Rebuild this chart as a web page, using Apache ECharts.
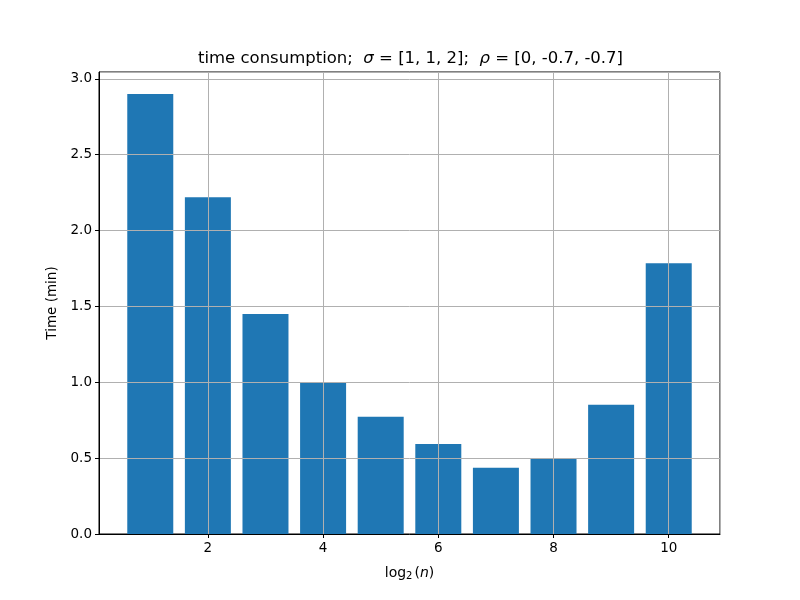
<!DOCTYPE html>
<html>
<head>
<meta charset="utf-8">
<script src="https://cdn.jsdelivr.net/npm/echarts@6/dist/echarts.min.js"></script>
<style>
  html, body { margin: 0; padding: 0; background: #fff; }
  #chart { width: 800px; height: 600px; }
</style>
</head>
<body>
<div id="chart"></div>
<script>
// log2(n) values and measured run time in minutes
const logN = [1, 2, 3, 4, 5, 6, 7, 8, 9, 10];
const times = [2.90, 2.22, 1.45, 1.00, 0.772, 0.594, 0.436, 0.497, 0.852, 1.785];

const font = 'DejaVu Sans';
const chart = echarts.init(document.getElementById('chart'));

// matplotlib style limits: bars of width 0.8, 5% margins
const xMin = 0.6 - 0.049 * 10, xMax = 10.4 + 0.049 * 10;
const yMax = Math.max(...times) * 1.05;

chart.setOption({
  animation: false,
  backgroundColor: '#fff',
  title: {
    text: '{a|time consumption;  }{i|σ}{a| = [1, 1, 2];  }{i|ρ}{a| = [0, -0.7, -0.7]}',
    left: 405.5,
    textAlign: 'center',
    top: 45,
    textStyle: {
      fontWeight: 'normal',
      rich: {
        a: { fontFamily: font, fontSize: 16.5, fontWeight: 'normal', color: '#000' },
        i: { fontFamily: font, fontSize: 16.5, fontWeight: 'normal', fontStyle: 'italic', color: '#000' }
      }
    }
  },
  grid: {
    left: 99, right: 80, top: 72, bottom: 66,
    show: true, borderColor: '#000', borderWidth: 1, backgroundColor: 'transparent'
  },
  xAxis: {
    type: 'value',
    min: xMin,
    max: xMax,
    splitNumber: 5,
    z: 5,
    name: '{a|log}{s|2}{a|(}{i|n}{a|)}',
    nameLocation: 'middle',
    nameGap: 31,
    nameTextStyle: {
      rich: {
        a: { fontFamily: font, fontSize: 14, color: '#000' },
        i: { fontFamily: font, fontSize: 14, fontStyle: 'italic', color: '#000' },
        s: { fontFamily: font, fontSize: 10, color: '#000', padding: [6, 2, 0, 0] }
      }
    },
    axisLine: { show: true, lineStyle: { color: '#000', width: 1 } },
    axisTick: { show: true, inside: false, length: 4, lineStyle: { color: '#000' } },
    axisLabel: {
      showMinLabel: false, showMaxLabel: false,
      fontFamily: font, fontSize: 13.5, color: '#000', margin: 7
    },
    splitLine: { show: true, lineStyle: { color: '#b0b0b0', width: 1 } }
  },
  yAxis: {
    type: 'value',
    min: 0,
    max: yMax,
    interval: 0.5,
    z: 5,
    name: 'Time (min)',
    nameLocation: 'middle',
    nameGap: 34,
    nameTextStyle: { fontFamily: font, fontSize: 13.5, color: '#000' },
    axisLine: { show: true, lineStyle: { color: '#000', width: 1 } },
    axisTick: { show: true, inside: false, length: 4, lineStyle: { color: '#000' } },
    axisLabel: {
      showMaxLabel: false,
      fontFamily: font, fontSize: 13.5, color: '#000', margin: 7,
      formatter: v => v.toFixed(1)
    },
    splitLine: { show: true, lineStyle: { color: '#b0b0b0', width: 1 } }
  },
  series: [{
    type: 'bar',
    data: logN.map((x, i) => [x, times[i]]),
    barWidth: 46,
    z: 1,
    itemStyle: { color: '#1f77b4' }
  }]
});
</script>
</body>
</html>
